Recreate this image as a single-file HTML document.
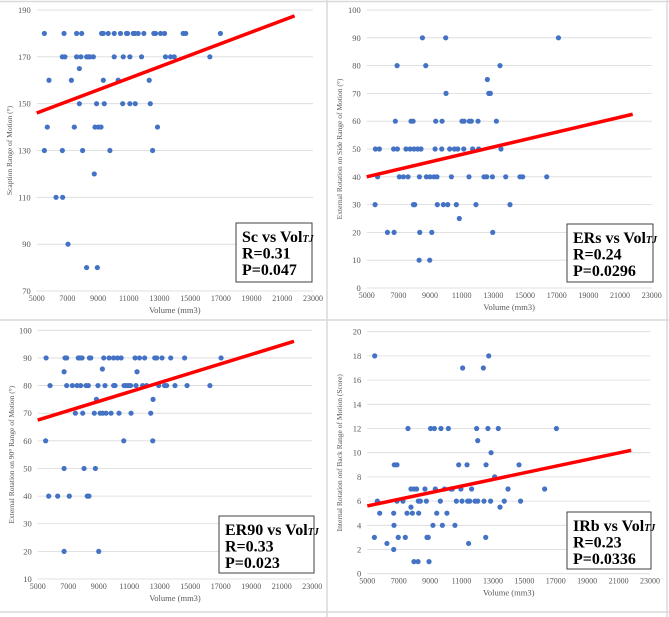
<!DOCTYPE html>
<html><head><meta charset="utf-8"><style>
html,body{margin:0;padding:0;background:#fff;}
svg{display:block;font-family:"Liberation Serif",serif;}
</style></head><body>
<svg id="chart" width="669" height="617" viewBox="0 0 669 617" xmlns="http://www.w3.org/2000/svg">
<rect x="0" y="0" width="669" height="617" fill="#fff"/>
<line x1="0" y1="1.5" x2="669" y2="1.5" stroke="#d9d9d9" stroke-width="1.5"/>
<line x1="327" y1="0" x2="327" y2="617" stroke="#d9d9d9" stroke-width="1.5"/>
<line x1="0" y1="320" x2="669" y2="320" stroke="#d9d9d9" stroke-width="1.5"/>
<line x1="0" y1="612" x2="669" y2="612" stroke="#d9d9d9" stroke-width="1.5"/>
<line x1="667" y1="0" x2="667" y2="617" stroke="#d9d9d9" stroke-width="1.5"/>
</svg>
<script>
// Panel 1: Scaption
const p1X=[5500,6780,7600,7930,9230,9340,9660,10050,10460,10850,10920,11290,11400,11610,11980,12630,12740,13070,13330,14540,14710,16970,
6670,6840,7600,7880,8250,8360,8470,8690,10050,10640,11070,11830,13390,13720,13960,16280,
7780,5800,7260,9340,10310,12330,7780,8900,9400,10600,11070,11420,12400,
5690,7450,8800,9010,9190,12870,5500,6670,7990,9770,12550,8750,6260,6690,7040,8250,8950];
const p1Y=[180,180,180,180,180,180,180,180,180,180,180,180,180,180,180,180,180,180,180,180,180,180,
170,170,170,170,170,170,170,170,170,170,170,170,170,170,170,170,
165,160,160,160,160,160,150,150,150,150,150,150,150,
140,140,140,140,140,140,130,130,130,130,130,120,110,110,90,80,80];
const p1YTicks=[70,90,110,130,150,170,190];
const p1Fit=[146,187.5];
// Panel 2: ER side
const p2X=[8520,9990,17110,6920,8730,13420,12620,10010,12710,12810,
6810,7800,7930,9360,9760,11020,11150,11480,11610,12030,13190,
5550,5800,6700,6940,7480,7740,7990,8220,8430,9320,9740,10240,10540,10750,11130,11690,12070,13480,
5690,7060,7320,7610,8330,8770,9000,9250,9440,10350,11460,12410,12580,12940,13780,14680,14850,16370,
5530,7950,8030,9460,9840,10120,10660,11900,14050,10850,6310,6730,8350,9110,12960,8310,8980];
const p2Y=[90,90,90,80,80,80,75,70,70,70,
60,60,60,60,60,60,60,60,60,60,60,
50,50,50,50,50,50,50,50,50,50,50,50,50,50,50,50,50,50,
40,40,40,40,40,40,40,40,40,40,40,40,40,40,40,40,40,40,
30,30,30,30,30,30,30,30,30,25,20,20,20,20,20,10,10];
const p2YTicks=[0,10,20,30,40,50,60,70,80,90,100];
const p2Fit=[40,62.5];
// Panel 3: ER90
const p3X=[5550,6790,6900,7660,7770,7910,8390,8480,9330,9680,9970,10230,10470,11380,11670,12010,12670,12800,13150,13720,14630,17020,
6730,11510,9240,
5810,6900,7270,7580,7820,8170,8320,8950,9410,9980,10070,10660,10790,10960,11090,11440,11880,12140,12930,13320,13450,14000,14790,16290,
8850,12560,7470,7950,8710,9090,9260,9480,9810,10330,11120,12410,
5520,10640,12540,6730,8040,8780,5720,6310,7070,8250,8360,6730,9000];
const p3Y=[90,90,90,90,90,90,90,90,90,90,90,90,90,90,90,90,90,90,90,90,90,90,
85,85,86,
80,80,80,80,80,80,80,80,80,80,80,80,80,80,80,80,80,80,80,80,80,80,80,80,
75,75,70,70,70,70,70,70,70,70,70,70,
60,60,60,50,50,50,40,40,40,40,40,20,20];
const p3YTicks=[10,20,30,40,50,60,70,80,90,100];
const p3Fit=[67.5,96];
// Panel 4: IRb
const p4X=[5470,12730,11070,12390,7590,9030,9270,9690,10160,11960,12680,13340,17040,12030,12880,
6720,6890,10820,11350,12560,14660,13110,
7780,7970,8140,8670,9330,9920,10330,10410,10960,11640,13960,16290,
5640,6890,7270,8250,8380,8760,9650,10670,11030,11390,11520,11860,12030,12430,12850,13720,14760,
7780,13450,5790,6680,7530,7870,8270,9420,10070,6700,9180,9780,10580,
5450,6970,7420,8800,8880,12540,6250,11450,6680,7970,8230,8930];
const p4Y=[18,18,17,17,12,12,12,12,12,12,12,12,12,11,10,
9,9,9,9,9,9,8,
7,7,7,7,7,7,7,7,7,7,7,7,
6,6,6,6,6,6,6,6,6,6,6,6,6,6,6,6,6,
5.5,5.5,5,5,5,5,5,5,5,4,4,4,4,
3,3,3,3,3,3,2.5,2.5,2,1,1,1];
const p4YTicks=[0,2,4,6,8,10,12,14,16,18,20];
const p4Fit=[5.6,10.2];
const xTicks=[5000,7000,9000,11000,13000,15000,17000,19000,21000,23000];
const fitX=[5000,21800];

const NS='http://www.w3.org/2000/svg';
const svg=document.getElementById('chart');
function mk(tag,attrs,parent){const e=document.createElementNS(NS,tag);for(const k in attrs)e.setAttribute(k,attrs[k]);(parent||svg).appendChild(e);return e;}

function panel(id,cfg,xs,ys,yt,fit){
  const g=mk('g',{});
  
  
  const ymin=yt[0],ymax=yt[yt.length-1];
  const sx=v=>cfg.x0+(v-5000)/(23000-5000)*(cfg.x1-cfg.x0);
  const sy=v=>cfg.yb-(v-ymin)/(ymax-ymin)*(cfg.yb-cfg.yt);
  yt.forEach(t=>{
    const l=mk('line',{x1:cfg.x0,x2:cfg.x1,y1:sy(t),y2:sy(t),stroke:'#d9d9d9','stroke-width':0.8},g);
    
    
    const tx=mk('text',{x:cfg.x0-6,y:sy(t)+3,'text-anchor':'end','font-size':8.5,fill:'#595959'},g);
    tx.textContent=t;
    
    
  });
  xTicks.forEach(t=>{
    const tx=mk('text',{x:sx(t),y:cfg.yb+10,'text-anchor':'middle','font-size':8,fill:'#595959'},g);
    tx.textContent=t;
    
    
  });
  const xt=mk('text',{x:(cfg.x0+cfg.x1)/2,y:cfg.yb+22,'text-anchor':'middle','font-size':8.5,fill:'#595959'},g);
  xt.textContent='Volume (mm3)';
  
  
  const cy=(cfg.yt+cfg.yb)/2;
  const yl=mk('text',{x:cfg.ylx,y:cy,'text-anchor':'middle','font-size':7.5,fill:'#595959',transform:'rotate(-90 '+cfg.ylx+' '+cy+')'},g);
  yl.textContent=cfg.ylabel;
  
  
  xs.forEach((x,i)=>{
    const c=mk('circle',{cx:sx(x),cy:sy(ys[i]),r:2.6,fill:'#4472c4'},g);
    
    
  });
  const ln=mk('line',{x1:sx(fitX[0]),y1:sy(fit[0]),x2:sx(fitX[1]),y2:sy(fit[1]),stroke:'#ff0000','stroke-width':3.5},g);
  
  
  const b=cfg.box;
  const r=mk('rect',{x:b[0],y:b[1],width:b[2],height:b[3],fill:'#fff',stroke:'#404040','stroke-width':1},g);
  
  
  const lines=[null,'R='+cfg.r,'P='+cfg.p];
  for(let i=0;i<3;i++){
    const t=mk('text',{x:b[0]+6,y:b[1]+19+i*16.5,'font-size':16,'font-weight':'bold',fill:'#000'},g);
    if(i===0){
      t.textContent=cfg.title+' vs Vol';
      const s=mk('tspan',{'font-size':10,'font-style':'italic'},t);
      s.textContent='TJ';
    } else t.textContent=lines[i];
    
    
  }
}
panel('scaption',{x0:36.7,x1:313,yt:10,yb:291,ylx:12,ylabel:'Scaption Range of Motion (°)',box:[236,223,76,59],title:'Sc',r:'0.31',p:'0.047'},p1X,p1Y,p1YTicks,p1Fit);
panel('er-side',{x0:366.7,x1:651.7,yt:10,yb:288,ylx:342,ylabel:'External Rotation on Side Range of Motion (°)',box:[567,224,86,58],title:'ERs',r:'0.24',p:'0.0296'},p2X,p2Y,p2YTicks,p2Fit);
panel('er90',{x0:37.7,x1:312.3,yt:330.3,yb:579,ylx:14,ylabel:'External Rotation on 90° Range of Motion (°)',box:[219,516,95,57],title:'ER90',r:'0.33',p:'0.023'},p3X,p3Y,p3YTicks,p3Fit);
panel('ir-back',{x0:367.3,x1:650,yt:331.7,yb:573.7,ylx:342,ylabel:'Internal Rotation onf Back Range of Motion (Score)',box:[567,512,84,57],title:'IRb',r:'0.23',p:'0.0336'},p4X,p4Y,p4YTicks,p4Fit);
</script>
</body></html>
